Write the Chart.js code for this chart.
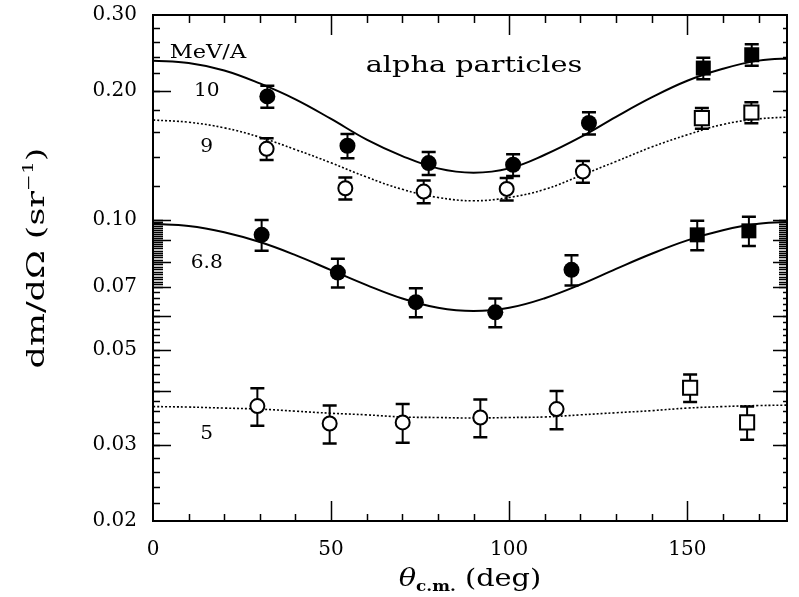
<!DOCTYPE html>
<html>
<head>
<meta charset="utf-8">
<script src="https://cdn.jsdelivr.net/npm/chart.js@4.4.1/dist/chart.umd.min.js"></script>
<style>
  html, body { margin: 0; padding: 0; background: #fff; }
  #wrap { width: 799px; height: 597px; }
</style>
</head>
<body>
<div id="wrap"><canvas id="c" width="799" height="597"></canvas></div>
<script>
// ---- fitted angular distributions, sampled every 10 degrees ----
const fitAngles = [0, 10, 20, 30, 40, 50, 60, 70, 80, 90, 100, 110, 120, 130, 140, 150, 160, 170, 180];
const fit10  = [0.235, 0.232, 0.223, 0.208, 0.191, 0.172, 0.154, 0.141, 0.132, 0.129, 0.132, 0.142, 0.156, 0.174, 0.193, 0.211, 0.225, 0.235, 0.238];
const fit9   = [0.171, 0.169, 0.164, 0.156, 0.146, 0.136, 0.126, 0.118, 0.113, 0.111, 0.113, 0.118, 0.127, 0.137, 0.148, 0.158, 0.167, 0.172, 0.174];
const fit68  = [0.0981, 0.0970, 0.0938, 0.0890, 0.0830, 0.0766, 0.0707, 0.0658, 0.0626, 0.0615, 0.0626, 0.0659, 0.0709, 0.0771, 0.0836, 0.0898, 0.0948, 0.0981, 0.0992];
const fit5   = [0.0369, 0.0368, 0.0366, 0.0364, 0.0360, 0.0356, 0.0353, 0.0349, 0.0348, 0.0347, 0.0348, 0.0349, 0.0353, 0.0357, 0.0361, 0.0366, 0.0369, 0.0371, 0.0372];

// ---- measured points (angle in deg, dm/dOmega in 1/sr, uncertainty) ----
const angles10 = [32.1, 54.6, 77.4, 101.1, 122.4, 154.5, 168.1];
const values10 = [0.194, 0.149, 0.1358, 0.1346, 0.1683, 0.2258, 0.2425];
const errors10 = [0.0115, 0.0096, 0.0083, 0.0078, 0.0100, 0.0130, 0.0140];

const angles9 = [31.9, 54.0, 76.0, 99.3, 120.7, 154.1, 168.0];
const values9 = [0.1466, 0.1187, 0.1166, 0.1183, 0.1298, 0.1728, 0.178];
const errors9 = [0.0085, 0.0070, 0.0071, 0.0071, 0.0075, 0.0095, 0.0100];

const angles68 = [30.5, 51.9, 73.8, 96.1, 117.5, 152.8, 167.3];
const values68 = [0.0925, 0.0756, 0.0645, 0.0611, 0.0767, 0.0925, 0.0945];
const errors68 = [0.0076, 0.0058, 0.0050, 0.0047, 0.0062, 0.0073, 0.0074];

const angles5 = [29.3, 49.6, 70.1, 91.9, 113.3, 150.8, 166.8];
const values5 = [0.0370, 0.0337, 0.0339, 0.0348, 0.0364, 0.0408, 0.0339];
const errors5 = [0.0037, 0.0034, 0.0035, 0.0035, 0.0037, 0.0030, 0.0030];

// circle = one detector set, square = the backward-angle set
const markerKinds = ['circle', 'circle', 'circle', 'circle', 'circle', 'rect', 'rect'];

// ---- axis tick labels and texts ----
const xLabelTicks = [0, 50, 100, 150];
const yLabelTicks = [0.02, 0.03, 0.05, 0.07, 0.10, 0.20, 0.30];
const energyLabels = ['10', '9', '6.8', '5'];
const unitLabel = 'MeV/A';
const panelTitle = 'alpha particles';

const FONT = "'DejaVu Serif', 'Liberation Serif', serif";

function points(angles, values) {
  return angles.map((a, i) => ({ x: a, y: values[i] }));
}

function curve(values, dotted) {
  return {
    type: 'line',
    showLine: true,
    data: points(fitAngles, values),
    borderColor: '#000',
    borderWidth: dotted ? 1.6 : 2,
    borderDash: dotted ? [2, 2] : [],
    pointRadius: 0,
    tension: 0.4,
    fill: false,
    order: 3
  };
}

function measured(angles, values, errors, filled) {
  return {
    type: 'scatter',
    data: points(angles, values),
    errors: errors,
    pointStyle: markerKinds,
    pointRadius: markerKinds.map(k => k === 'rect' ? (filled ? 10.6 : 10) : (filled ? 8 : 7)),
    backgroundColor: filled ? '#000' : '#fff',
    borderColor: '#000',
    borderWidth: filled ? 0 : 2,
    order: 1
  };
}

// vertical uncertainty bars with caps, drawn just under each marker set
const errorBars = {
  id: 'errorBars',
  beforeDatasetDraw(chart, args) {
    const ds = chart.data.datasets[args.index];
    if (!ds.errors) return;
    const { ctx } = chart;
    const xs = chart.scales.x, ys = chart.scales.y;
    ctx.save();
    ctx.strokeStyle = '#000';
    ctx.lineCap = 'butt';
    ds.data.forEach((p, i) => {
      const px = xs.getPixelForValue(p.x);
      const top = ys.getPixelForValue(p.y + ds.errors[i]);
      const bot = ys.getPixelForValue(p.y - ds.errors[i]);
      ctx.lineWidth = 2;
      ctx.beginPath();
      ctx.moveTo(px, top); ctx.lineTo(px, bot);
      ctx.stroke();
      ctx.lineWidth = 2.5;
      ctx.beginPath();
      ctx.moveTo(px - 7, top); ctx.lineTo(px + 7, top);
      ctx.moveTo(px - 7, bot); ctx.lineTo(px + 7, bot);
      ctx.stroke();
    });
    ctx.restore();
  }
};

// text stretched along its writing direction
function drawParts(ctx, parts, sx) {
  let w = 0;
  parts.forEach(p => { ctx.font = p.font; w += ctx.measureText(p.text).width; });
  ctx.save();
  ctx.scale(sx, 1);
  let x = -w / 2;
  parts.forEach(p => {
    ctx.font = p.font;
    ctx.fillText(p.text, x, p.dy || 0);
    x += ctx.measureText(p.text).width;
  });
  ctx.restore();
}

function drawLabel(ctx, text, x, y, size, sx, align) {
  ctx.save();
  ctx.translate(x, y);
  ctx.scale(sx, 1);
  ctx.font = size + 'px ' + FONT;
  ctx.textAlign = align;
  ctx.textBaseline = 'middle';
  ctx.fillText(text, 0, 0);
  ctx.restore();
}

// frame, inward tick marks on all four sides, in-plot labels and axis titles
const frame = {
  id: 'frame',
  afterDraw(chart) {
    const { ctx, chartArea: a } = chart;
    const xs = chart.scales.x, ys = chart.scales.y;
    ctx.save();
    ctx.strokeStyle = '#000';
    ctx.fillStyle = '#000';

    // y tick marks
    const yMarks = [];
    for (let v = 20; v <= 50; v += 2) yMarks.push([v / 1000, 7]);
    for (let v = 52; v < 70; v += 2) yMarks.push([v / 1000, 7]);
    for (let v = 70; v <= 100; v += 1) yMarks.push([v / 1000, 10]);
    for (let v = 120; v <= 300; v += 20) yMarks.push([v / 1000, 7]);
    [0.03, 0.04, 0.05, 0.06, 0.07, 0.08, 0.09, 0.1, 0.2].forEach(v => yMarks.push([v, 18]));
    ctx.lineWidth = 1.5;
    yMarks.forEach(([v, len]) => {
      const py = Math.round(ys.getPixelForValue(v)) + 0.5;
      if (py < a.top + 1 || py > a.bottom - 1) return;
      ctx.beginPath();
      ctx.moveTo(a.left, py); ctx.lineTo(a.left + len, py);
      const rl = len >= 18 ? 14 : (len >= 10 ? 8 : 4);
      ctx.moveTo(a.right, py); ctx.lineTo(a.right - rl, py);
      ctx.stroke();
    });

    // x tick marks
    for (let d = 10; d <= 170; d += 10) {
      const px = Math.round(xs.getPixelForValue(d)) + 0.5;
      const len = d % 50 === 0 ? 20 : 7;
      ctx.beginPath();
      ctx.moveTo(px, a.bottom); ctx.lineTo(px, a.bottom - len);
      ctx.moveTo(px, a.top); ctx.lineTo(px, a.top + (d % 50 === 0 ? 20 : 8));
      ctx.stroke();
    }

    // frame
    ctx.lineWidth = 2;
    ctx.strokeRect(a.left, a.top, a.right - a.left, a.bottom - a.top);

    // in-plot texts
    const at = (deg, val) => [xs.getPixelForValue(deg), ys.getPixelForValue(val)];
    const energyAt = [0.199, 0.1478, 0.0794, 0.0318];
    energyLabels.forEach((t, i) => {
      const [px, py] = at(15.1, energyAt[i]);
      drawLabel(ctx, t, px, py, 18, 1.12, 'center');
    });
    let [ux, uy] = at(4.7, 0.2445);
    drawLabel(ctx, unitLabel, ux, uy, 18, 1.25, 'left');
    let [tx, ty] = at(59.7, 0.2286);
    drawLabel(ctx, panelTitle, tx, ty, 23, 1.25, 'left');

    // x axis title: theta with c.m. subscript
    ctx.textBaseline = 'alphabetic';
    ctx.textAlign = 'left';
    ctx.save();
    ctx.translate((a.left + a.right) / 2, 586);
    drawParts(ctx, [
      { text: '\u03B8', font: 'italic 24px ' + FONT },
      { text: 'c.m.', font: 'bold 14px ' + FONT, dy: 5 },
      { text: ' (deg)', font: '24px ' + FONT }
    ], 1.2);
    ctx.restore();

    // y axis title, rotated
    ctx.save();
    ctx.translate(44, 258);
    ctx.rotate(-Math.PI / 2);
    drawParts(ctx, [
      { text: 'dm/d\u03A9 (sr', font: '24px ' + FONT },
      { text: '\u22121', font: '14px ' + FONT, dy: -11 },
      { text: ')', font: '24px ' + FONT }
    ], 1.45);
    ctx.restore();

    ctx.restore();
  }
};

new Chart(document.getElementById('c'), {
  type: 'scatter',
  data: {
    datasets: [
      measured(angles10, values10, errors10, true),
      measured(angles9, values9, errors9, false),
      measured(angles68, values68, errors68, true),
      measured(angles5, values5, errors5, false),
      curve(fit10, false),
      curve(fit9, true),
      curve(fit68, false),
      curve(fit5, true)
    ]
  },
  options: {
    responsive: false,
    animation: false,
    devicePixelRatio: 1,
    layout: { padding: { top: 15, right: 2, left: 0, bottom: 0 } },
    plugins: { legend: { display: false }, tooltip: { enabled: false } },
    scales: {
      x: {
        type: 'linear',
        min: 0,
        max: 178,
        grid: { display: false, drawTicks: false },
        border: { display: false },
        ticks: { color: '#000', font: { family: FONT, size: 20 }, padding: 17, maxRotation: 0 },
        afterBuildTicks: s => { s.ticks = xLabelTicks.map(v => ({ value: v })); },
        afterFit: s => { s.height = 76; }
      },
      y: {
        type: 'logarithmic',
        min: 0.02,
        max: 0.30,
        // label gap comes from an invisible tick length so the top edge keeps its place
        grid: { display: false, drawTicks: true, tickLength: 16 },
        border: { display: false },
        ticks: { color: '#000', font: { family: FONT, size: 20 }, padding: 0, callback: v => Number(v).toFixed(2) },
        afterBuildTicks: s => { s.ticks = yLabelTicks.map(v => ({ value: v })); },
        afterFit: s => { s.width = 153; }
      }
    }
  },
  plugins: [errorBars, frame]
});
</script>
</body>
</html>
